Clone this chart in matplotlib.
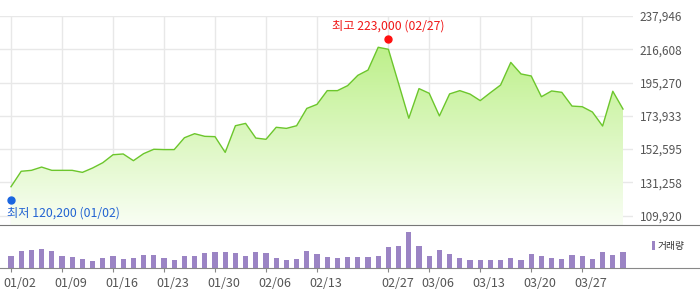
import matplotlib
matplotlib.use("Agg")
import matplotlib.pyplot as plt
import numpy as np
from matplotlib.colors import LinearSegmentedColormap
from matplotlib.transforms import ScaledTranslation

plt.rcParams['font.family'] = ['Noto Sans CJK KR', 'DejaVu Sans']

# closing prices, one per trading day (01/02 .. end of March)
close = [
    128500, 138400, 139000, 141100, 139000, 139000, 139000, 137700, 140500, 143900,
    149000, 149500, 145200, 149700, 152500, 152300, 152300, 159900, 162500, 160800,
    160600, 150500, 167600, 169100, 159700, 158900, 166600, 165900, 167600, 178700,
    181300, 190100, 190100, 193300, 199900, 203300, 217900, 216600, 194600, 172400,
    191400, 188400, 173900, 188000, 190100, 187900, 183700, 188800, 193700, 208200,
    200800, 199500, 186200, 189900, 189000, 180200, 179800, 176400, 167400, 189700,
    178300,
]
# traded volume (thousand shares)
volume = [
    370, 520, 550, 580, 520, 370, 340, 280, 220, 310,
    370, 280, 310, 400, 400, 310, 250, 370, 370, 460,
    490, 490, 460, 370, 490, 460, 310, 250, 280, 520,
    430, 340, 310, 340, 340, 340, 370, 640, 670, 1090,
    670, 370, 550, 430, 310, 250, 250, 250, 250, 310,
    250, 430, 370, 310, 280, 400, 370, 280, 490, 400,
    490,
]
tick_idx = [0, 5, 10, 15, 20, 25, 30, 37, 41, 46, 51, 56]
tick_labels = ["01/02", "01/09", "01/16", "01/23", "01/30", "02/06",
               "02/13", "02/27", "03/06", "03/13", "03/20", "03/27"]
price_levels = [109920, 131258, 152595, 173933, 195270, 216608, 237946]

high_idx, high_val, high_date = 37, 223000, "02/27"
low_idx, low_val, low_date = 0, 120200, "01/02"


def graph():
    x = np.arange(len(close))
    fig = plt.figure(figsize=(7, 2.89), dpi=100)
    ax = fig.add_axes([0, 1 - 225.3 / 289, 633 / 700, 209.3 / 289])
    ax_v = fig.add_axes([0, 1 - 268.3 / 289, 1, 43 / 289])

    # shared horizontal scale: 10.2 px per trading day, first day at 11 px
    x0 = -11 / 10.2
    full_span = 700 / 10.2
    ybot = price_levels[0] - (price_levels[-1] - price_levels[0]) * 9.6 / 199.7
    ytop = price_levels[-1]

    # price area with vertical gradient
    poly = ax.fill_between(x, close, ybot, color='none', lw=0)
    cmap = LinearSegmentedColormap.from_list("g", ["#f9fef4", "#bdf08a"])
    grad = np.linspace(0, 1, 256).reshape(-1, 1)
    im = ax.imshow(grad, extent=[x0, x0 + full_span, ybot, max(close)],
                   aspect='auto', cmap=cmap, origin='lower', zorder=1)
    im.set_clip_path(poly.get_paths()[0], transform=ax.transData)
    ax.plot(x, close, color='#6cc62c', lw=1.0, zorder=3)

    ax.plot(high_idx, high_val, 'o', color='#ff1010', ms=5, zorder=4, clip_on=False)
    ax.annotate(f"최고 {high_val:,} ({high_date})", (high_idx, high_val),
                xytext=(0, 9.4), textcoords='offset points', ha='center',
                va='center', color='#f01818', fontsize=8.8)
    ax.plot(low_idx, low_val, 'o', color='#1a66e0', ms=5, zorder=4, clip_on=False)
    ax.annotate(f"최저 {low_val:,} ({low_date})", (low_idx, low_val),
                xytext=(-2.9, -9.4), textcoords='offset points', ha='left',
                va='center', color='#2364d2', fontsize=8.8)

    ax.set_xlim(x0, x0 + full_span * 633 / 700)
    ax.set_ylim(ybot, ytop)
    ax.set_xticks(tick_idx)
    ax.set_yticks(price_levels, [f"{v:,}" for v in price_levels])
    ax.yaxis.tick_right()
    ax.tick_params(axis='x', length=0, labelbottom=False)
    ax.tick_params(axis='y', length=0, pad=5, labelsize=8.5, labelcolor='#555555')
    ax.grid(True, color='#e8e8e8', lw=1)
    ax.set_axisbelow(True)
    for s in ax.spines.values():
        s.set_visible(False)

    # volume panel
    ax_v.bar(x, volume, width=0.5, color='#9b84c4', label='거래량')
    ax_v.set_xlim(x0, x0 + full_span)
    ax_v.set_ylim(0, max(volume) * 43 / 36.3)
    ax_v.set_xticks(tick_idx, tick_labels)
    ax_v.set_yticks([])
    ax_v.tick_params(axis='x', length=3, color='#888888', pad=3,
                     labelsize=9, labelcolor='#555555')
    # date labels sit a little to the right of their tick
    shift = ScaledTranslation(9 / 100, 0, fig.dpi_scale_trans)
    for lbl in ax_v.get_xticklabels():
        lbl.set_transform(lbl.get_transform() + shift)
    for side in ['left', 'right']:
        ax_v.spines[side].set_visible(False)
    ax_v.spines['top'].set_color('#777777')
    ax_v.spines['bottom'].set_color('#888888')
    ax_v.patch.set_alpha(0)
    ax_v.legend(loc='upper right', frameon=False, fontsize=7, handlelength=0.3,
                handleheight=0.9, handletextpad=0.3, borderaxespad=1.2,
                labelcolor='#333333')

    fig.savefig("out.png", dpi=100)


if __name__ == "__main__":
    graph()
